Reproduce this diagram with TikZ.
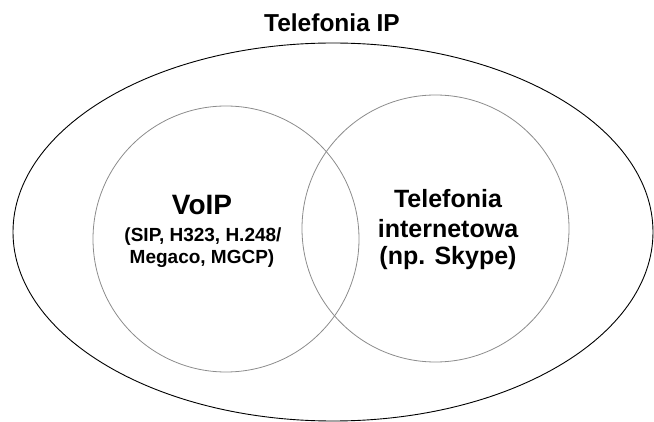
\documentclass[tikz,border=0pt]{standalone}
\usepackage{fontspec}
\setmainfont{Liberation Sans}
\begin{document}
\begin{tikzpicture}[x=1pt,y=1pt,
  outer/.style={draw=black,line width=0.9pt},
  set/.style={draw=black!45,line width=0.8pt},
  lbl/.style={font=\bfseries,anchor=base,inner sep=0pt}]
\useasboundingbox (0,0) rectangle (654,-422);
% outer set: IP telephony
\draw[outer] (333,-232) ellipse [x radius=320, y radius=189];
% the two overlapping sets
\draw[set] (226,-239) circle [radius=133];
\draw[set] (435.5,-228.5) circle [radius=133.5];
% labels
\node[lbl,font=\bfseries\fontsize{24.5}{28}\selectfont] (tip) at (332,-32) {Telefonia IP};
\node[lbl,font=\bfseries\fontsize{28}{32}\selectfont] (voip) at (202,-215) {VoIP};
\node[lbl,font=\bfseries\fontsize{19}{22}\selectfont] (voip1) at (203,-242) {(SIP, H323, H.248/};
\node[lbl,font=\bfseries\fontsize{19}{22}\selectfont] (voip2) at (202,-264) {Megaco, MGCP)};
\node[lbl,font=\bfseries\fontsize{25}{29}\selectfont] (ti1) at (448,-208) {Telefonia};
\node[lbl,font=\bfseries\fontsize{25}{29}\selectfont] (ti2) at (448,-238) {internetowa};
\node[lbl,font=\bfseries\fontsize{25}{29}\selectfont] (ti3) at (448,-265) {(np. Skype)};
\end{tikzpicture}
\end{document}
